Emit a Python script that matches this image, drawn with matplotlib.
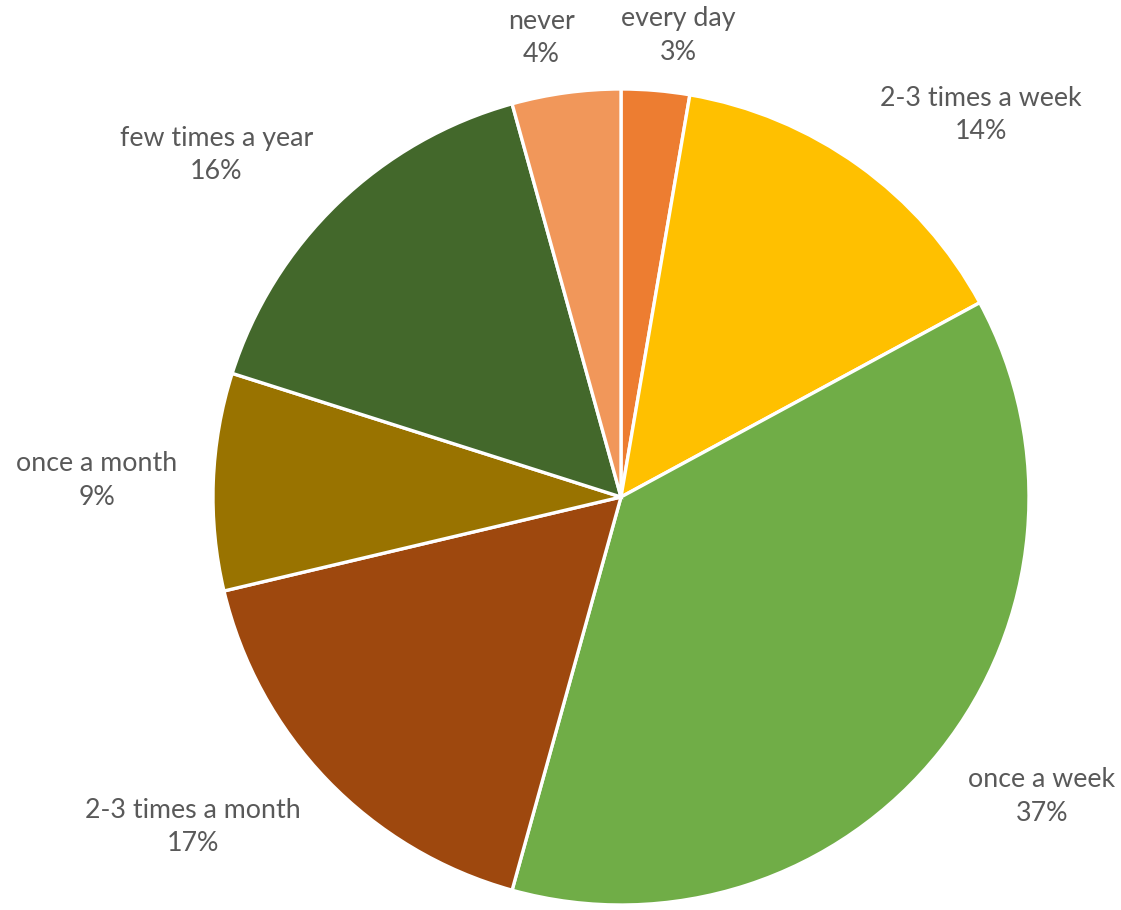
import matplotlib
matplotlib.use("Agg")
import matplotlib.pyplot as plt
import numpy as np

categories = ['every day', '2-3 times a week', 'once a week', '2-3 times a month',
              'once a month', 'few times a year', 'never']
shares = [2.7, 14.4, 37.2, 17.0, 8.6, 15.8, 4.3]
colors = ['#ED7D31', '#FFC000', '#70AD47', '#9E480E', '#997300', '#43682B', '#F1975A']

plt.rcParams['font.family'] = ['Lato', 'DejaVu Sans']

fig = plt.figure(figsize=(11.21, 9.10), dpi=100)
ax = fig.add_axes([0, 0, 1, 1])

cx, cy, R = 621, 413, 408
wedges, _ = ax.pie(shares, colors=colors, startangle=90, counterclock=False,
                   center=(cx, cy), radius=R, frame=True,
                   wedgeprops=dict(edgecolor='white', linewidth=2.4))
ax.set_xlim(0, 1121)
ax.set_ylim(0, 910)
ax.set_aspect('equal')
ax.axis('off')

total = sum(shares)
for w, name, v in zip(wedges, categories, shares):
    theta = np.deg2rad((w.theta1 + w.theta2) / 2)
    dx, dy = np.cos(theta), np.sin(theta)
    ha = 'left' if dx > 0.3 else ('right' if dx < -0.3 else 'center')
    va = 'bottom' if dy > 0.3 else ('top' if dy < -0.3 else 'center')
    x = cx + (R + 36) * dx
    y = cy + (R + 26) * dy
    if ha == 'center':
        # spread the small top labels apart a bit
        x += np.sign(dx) * 20
    ax.text(x, y, f'{name}\n{v / total * 100:.0f}%', ha=ha, va=va,
            multialignment='center', fontsize=19.3, color='#595959', linespacing=1.42)

fig.savefig('out.png', dpi=100)
